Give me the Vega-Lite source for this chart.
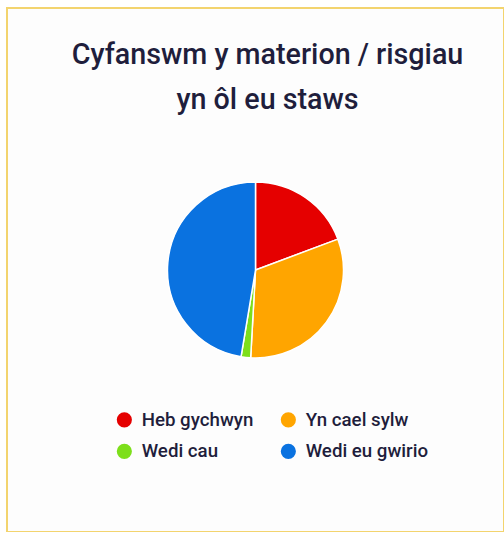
{
  "$schema": "https://vega.github.io/schema/vega-lite/v6.json",
  "width": 497,
  "height": 524,
  "padding": {"left": 7, "top": 8, "right": 0, "bottom": 0},
  "autosize": {"type": "none"},
  "background": "#ffffff",
  "view": {"stroke": "#f3d46e", "strokeWidth": 2, "fill": "#fdfdfd"},
  "title": {
    "text": ["Cyfanswm y materion / risgiau", "yn ôl eu staws"],
    "font": "Roboto",
    "fontSize": 28.7,
    "fontWeight": 500,
    "lineHeight": 45,
    "color": "#1f1e3c",
    "anchor": "middle",
    "frame": "group",
    "offset": -107,
    "dx": 12
  },
  "data": {
    "values": [
      {"status": "Heb gychwyn", "count": 11, "rank": 1},
      {"status": "Yn cael sylw", "count": 18, "rank": 2},
      {"status": "Wedi cau", "count": 1, "rank": 3},
      {"status": "Wedi eu gwirio", "count": 27, "rank": 4}
    ]
  },
  "mark": {"type": "arc", "radius": 88, "stroke": "#ffffff", "strokeWidth": 1.5},
  "encoding": {
    "theta": {"field": "count", "type": "quantitative", "stack": true},
    "color": {
      "field": "status",
      "type": "nominal",
      "sort": ["Heb gychwyn", "Wedi cau", "Yn cael sylw", "Wedi eu gwirio"],
      "scale": {
        "domain": ["Heb gychwyn", "Wedi cau", "Yn cael sylw", "Wedi eu gwirio"],
        "range": ["#e50000", "#7ddf1b", "#ffa500", "#0a72e0"]
      },
      "legend": {
        "title": null,
        "orient": "none",
        "legendX": 108,
        "legendY": 402,
        "columns": 2,
        "columnPadding": 25,
        "rowPadding": 12,
        "symbolType": "circle",
        "symbolSize": 230,
        "symbolStrokeWidth": 0,
        "labelFont": "Roboto",
        "labelFontSize": 18.7,
        "labelFontWeight": 500,
        "labelColor": "#1f1e3c",
        "labelOffset": 8
      }
    },
    "order": {"field": "rank", "type": "quantitative", "sort": "ascending"}
  }
}
